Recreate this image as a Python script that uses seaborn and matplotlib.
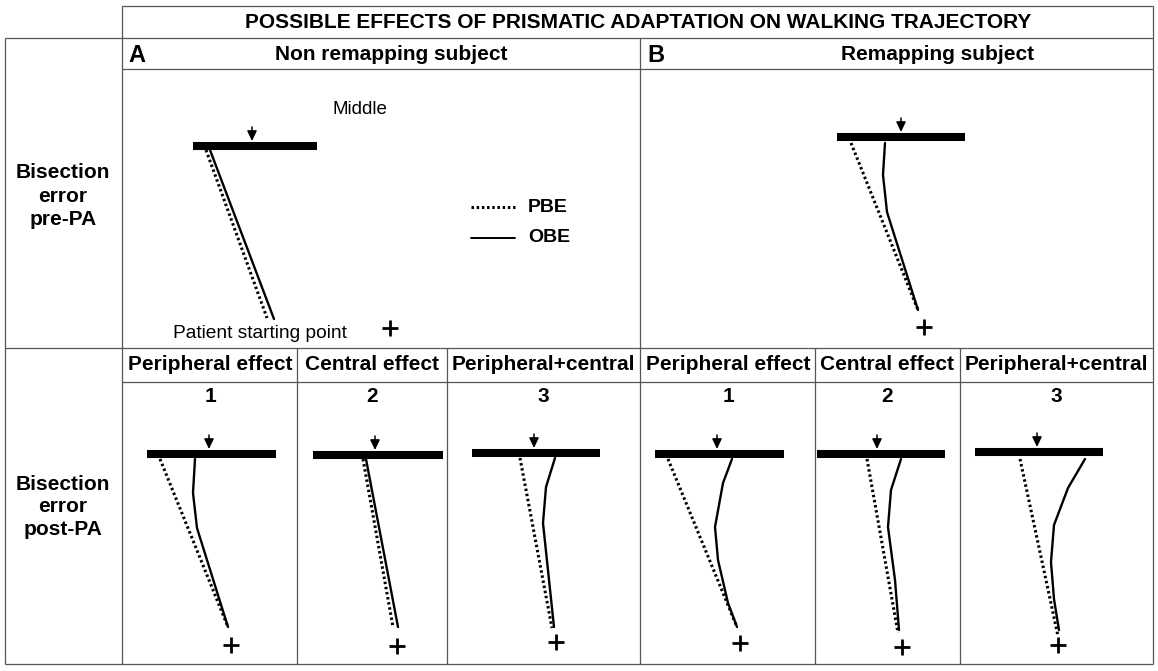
import seaborn as sns
import matplotlib.pyplot as plt

# Schematic of walking trajectories, coordinates (pixels)
PANELS = ["A", "B", "A1", "A2", "A3", "B1", "B2", "B3"]

# line to bisect (the thick bar) and the true middle (arrow)
bar_left = [193, 837, 147, 313, 472, 655, 817, 975]
bar_right = [317, 965, 276, 443, 600, 784, 945, 1103]
bar_y = [146, 137, 454, 455, 453, 454, 454, 452]
middle_x = [252, 901, 209, 375, 534, 717, 877, 1037]

# patient starting point
start_x = [390, 924, 231, 397, 556, 740, 902, 1058]
start_y = [328, 327, 645, 646, 642, 643, 647, 645]

# PBE trajectories (dotted)
pbe_a_x, pbe_a_y = [206, 267], [150, 318]
pbe_b_x, pbe_b_y = [851, 918], [143, 310]
pbe_a1_x, pbe_a1_y = [160, 228], [459, 627]
pbe_a2_x, pbe_a2_y = [363, 393], [459, 627]
pbe_a3_x, pbe_a3_y = [520, 552], [458, 628]
pbe_b1_x, pbe_b1_y = [668, 737], [459, 627]
pbe_b2_x, pbe_b2_y = [867, 898], [459, 633]
pbe_b3_x, pbe_b3_y = [1020, 1058], [459, 636]

# OBE trajectories (solid)
obe_a_x, obe_a_y = [210, 274], [150, 319]
obe_b_x, obe_b_y = [885, 883, 887, 918], [143, 175, 212, 310]
obe_a1_x, obe_a1_y = [195, 193, 197, 228], [459, 493, 528, 627]
obe_a2_x, obe_a2_y = [366, 398], [459, 627]
obe_a3_x, obe_a3_y = [555, 546, 543, 554], [458, 487, 523, 627]
obe_b1_x, obe_b1_y = [732, 723, 715, 718, 728, 737], [459, 483, 527, 560, 603, 627]
obe_b2_x, obe_b2_y = [901, 891, 888, 895, 899], [459, 490, 527, 580, 630]
obe_b3_x, obe_b3_y = [1085, 1068, 1054, 1051, 1054, 1059], [459, 488, 525, 562, 599, 630]

pbe_tracks = [(pbe_a_x, pbe_a_y), (pbe_b_x, pbe_b_y), (pbe_a1_x, pbe_a1_y),
              (pbe_a2_x, pbe_a2_y), (pbe_a3_x, pbe_a3_y), (pbe_b1_x, pbe_b1_y),
              (pbe_b2_x, pbe_b2_y), (pbe_b3_x, pbe_b3_y)]
obe_tracks = [(obe_a_x, obe_a_y), (obe_b_x, obe_b_y), (obe_a1_x, obe_a1_y),
              (obe_a2_x, obe_a2_y), (obe_a3_x, obe_a3_y), (obe_b1_x, obe_b1_y),
              (obe_b2_x, obe_b2_y), (obe_b3_x, obe_b3_y)]

# texts
title = "POSSIBLE EFFECTS OF PRISMATIC ADAPTATION ON WALKING TRAJECTORY"
effect_labels = ["Peripheral effect", "Central effect", "Peripheral+central"]
effect_x_a = [210, 372, 543]
effect_x_b = [728, 887, 1056]
effect_numbers = ["1", "2", "3"]

sns.set_theme(style="white")
plt.rcParams['font.family'] = ['Liberation Sans', 'DejaVu Sans']
plt.rcParams['text.color'] = 'black'

DOTS = (0, (0.8, 0.9))

fig = plt.figure(figsize=(11.58, 6.71), dpi=100)
ax = fig.add_axes([0, 0, 1, 1])
ax.set_xlim(0, 1158)
ax.set_ylim(671, 0)
ax.axis('off')

# table frame
grid_kw = dict(color="#555555", lw=0.9)
ax.hlines([6], 122, 1153, **grid_kw)
ax.hlines([38, 348, 664], 5, 1153, **grid_kw)
ax.hlines([69, 382], 122, 1153, **grid_kw)
ax.vlines([122, 1153], 6, 664, **grid_kw)
ax.vlines([5, 640], 38, 664, **grid_kw)
ax.vlines([297, 447, 815, 960], 348, 664, **grid_kw)

# bars and middle arrows
ax.hlines(bar_y, bar_left, bar_right, color="black", lw=5.8, capstyle="butt")
for mx, by in zip(middle_x, bar_y):
    ax.annotate("", xy=(mx, by - 5), xytext=(mx, by - 19),
                arrowprops=dict(arrowstyle="-|>,head_length=0.5,head_width=0.24",
                                color="black", lw=1.1, shrinkA=0, shrinkB=0))

# trajectories
for xs, ys in pbe_tracks:
    sns.lineplot(x=xs, y=ys, sort=False, estimator=None, color="black",
                 lw=2.2, linestyle=DOTS, ax=ax)
for xs, ys in obe_tracks:
    sns.lineplot(x=xs, y=ys, sort=False, estimator=None, color="black",
                 lw=1.7, ax=ax)

sns.scatterplot(x=start_x, y=start_y, marker="+", s=140, color="black",
                linewidth=2.0, ax=ax, zorder=5)

# legend
ax.plot([471, 515], [207, 207], color="black", lw=2.2, linestyle=DOTS)
ax.plot([471, 515], [238, 238], color="black", lw=1.4)
ax.text(528, 207, "PBE", fontsize=14, fontweight="bold", va="center", ha="left")
ax.text(528, 238, "OBE", fontsize=14, fontweight="bold", va="center", ha="left")

# headers
ax.text(638, 23, title, fontsize=15, fontweight="bold", ha="center", va="center")
ax.text(128, 55, "A", fontsize=17, fontweight="heavy", ha="left", va="center")
ax.text(391, 55, "Non remapping subject", fontsize=15, fontweight="bold",
        ha="center", va="center")
ax.text(647, 55, "B", fontsize=17, fontweight="heavy", ha="left", va="center")
ax.text(938, 55, "Remapping subject", fontsize=15, fontweight="bold",
        ha="center", va="center")

for lx, lab, num in zip(effect_x_a + effect_x_b, effect_labels * 2, effect_numbers * 2):
    ax.text(lx, 365, lab, fontsize=15, fontweight="bold", ha="center", va="center")
    ax.text(lx, 396, num, fontsize=15, fontweight="bold", ha="center", va="center")

ax.text(63, 196, "Bisection\nerror\npre-PA", fontsize=15, fontweight="bold",
        ha="center", va="center", linespacing=1.3)
ax.text(63, 507, "Bisection\nerror\npost-PA", fontsize=15, fontweight="bold",
        ha="center", va="center", linespacing=1.25)

ax.text(360, 109, "Middle", fontsize=13.5, ha="center", va="center")
ax.text(260, 333, "Patient starting point", fontsize=13.8, ha="center", va="center")

fig.savefig("out.png", dpi=100)
